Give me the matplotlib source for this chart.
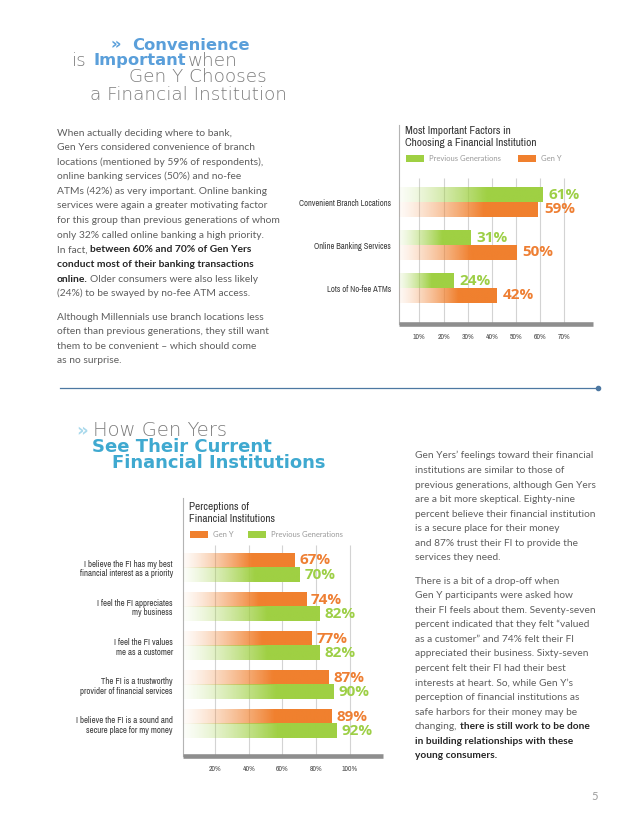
import matplotlib
matplotlib.use('Agg')
import matplotlib.pyplot as plt
import numpy as np
from matplotlib import font_manager, transforms, colors as mcolors
from matplotlib.font_manager import FontProperties
from matplotlib.lines import Line2D
from matplotlib.patches import Rectangle

# ---------------- data ----------------
factor_categories = ['Convenient Branch Locations', 'Online Banking Services', 'Lots of No-fee ATMs']
factor_previous = [61, 31, 24]
factor_geny = [59, 50, 42]
factor_ticks = [10, 20, 30, 40, 50, 60, 70]
factor_ticklabels = ['10%', '20%', '30%', '40%', '50%', '60%', '70%']

perception_categories = [
    'I believe the FI has my best\nfinancial interest as a priority',
    'I feel the FI appreciates\nmy business',
    'I feel the FI values\nme as a customer',
    'The FI is a trustworthy\nprovider of financial services',
    'I believe the FI is a sound and\nsecure place for my money',
]
perception_geny = [67, 74, 77, 87, 89]
perception_previous = [70, 82, 82, 90, 92]
perception_ticks = [20, 40, 60, 80, 100]
perception_ticklabels = ['20%', '40%', '60%', '80%', '100%']

left_para1 = [
    [("When actually deciding where to bank,", False)],
    [("Gen Yers considered convenience of branch", False)],
    [("locations (mentioned by 59% of respondents),", False)],
    [("online banking services (50%) and no-fee", False)],
    [("ATMs (42%) as very important. Online banking", False)],
    [("services were again a greater motivating factor", False)],
    [("for this group than previous generations of whom", False)],
    [("only 32% called online banking a high priority.", False)],
    [("In fact, ", False), ("between 60% and 70% of Gen Yers", True)],
    [("conduct most of their banking transactions", True)],
    [("online. ", True), ("Older consumers were also less likely", False)],
    [("(24%) to be swayed by no-fee ATM access.", False)],
]
left_para2 = [
    [("Although Millennials use branch locations less", False)],
    [("often than previous generations, they still want", False)],
    [("them to be convenient \u2013 which should come", False)],
    [("as no surprise.", False)],
]
right_para1 = [
    [("Gen Yers\u2019 feelings toward their financial", False)],
    [("institutions are similar to those of", False)],
    [("previous generations, although Gen Yers", False)],
    [("are a bit more skeptical. Eighty-nine", False)],
    [("percent believe their financial institution", False)],
    [("is a secure place for their money", False)],
    [("and 87% trust their FI to provide the", False)],
    [("services they need.", False)],
]
right_para2 = [
    [("There is a bit of a drop-off when", False)],
    [("Gen Y participants were asked how", False)],
    [("their FI feels about them. Seventy-seven", False)],
    [("percent indicated that they felt \u201cvalued", False)],
    [("as a customer\u201d and 74% felt their FI", False)],
    [("appreciated their business. Sixty-seven", False)],
    [("percent felt their FI had their best", False)],
    [("interests at heart. So, while Gen Y\u2019s", False)],
    [("perception of financial institutions as", False)],
    [("safe harbors for their money may be", False)],
    [("changing, ", False), ("there is still work to be done", True)],
    [("in building relationships with these", True)],
    [("young consumers.", True)],
]

# ---------------- setup ----------------
W, H = 638, 826
fig = plt.figure(figsize=(W / 100, H / 100), dpi=100)
fig.patch.set_facecolor('white')
renderer = fig.canvas.get_renderer()

ttf = font_manager.fontManager.ttflist
names = {f.name for f in ttf}


def pick(*cands):
    for n in cands:
        if n in names:
            return n
    return 'DejaVu Sans'


def find_condensed():
    cands = []
    for f in ttf:
        w = f.weight if isinstance(f.weight, int) else 400
        if f.style != 'normal' or not (350 <= w <= 450):
            continue
        score = None
        if 'Narrow' in f.name:
            score = 0
        elif 'Condensed' in f.name or f.stretch in ('condensed', 'semi-condensed'):
            score = 1 if 'Roboto' in f.name or 'Open' in f.name else 2
        if score is not None:
            cands.append((score, f.fname))
    if cands:
        cands.sort()
        return FontProperties(fname=cands[0][1])
    return FontProperties(family=pick('Roboto', 'Liberation Sans'))


COND = find_condensed()
SANS = pick('Lato', 'Open Sans', 'Roboto')
NUMF = pick('Open Sans', 'Lato')
WIDE = 'DejaVu Sans'

ORANGE = '#f0802e'
GREEN = '#9fd043'
ORANGE_T = '#ee7f33'
GREEN_T = '#9dcf46'
BLUE1 = '#5a9fda'
BLUE2 = '#3fa9d0'
GRAYH = '#7c7c7c'
BODY_C = '#5e5e5e'
BOLD_C = '#262626'


def fxy(x, y):
    return (x / W, 1 - y / H)


def measure(s, size, **kw):
    t = fig.text(0, 0, s, fontsize=size, **kw)
    w = t.get_window_extent(renderer=renderer).width
    t.remove()
    return w


def fit(s, target_w, max_size=None, **kw):
    size = 10 * target_w / measure(s, 10, **kw)
    if max_size is not None:
        size = min(size, max_size)
    return size


def put(x, y, s, **kw):
    return fig.text(*fxy(x, y), s, **kw)


def right_edge(t):
    return t.get_window_extent(renderer=renderer).x1


def rich(x, y, segs, size, family):
    cx = x
    for s, b in segs:
        kw = dict(family=family, weight='bold' if b else 'normal')
        put(cx, y, s.strip(), fontsize=size, color=BOLD_C if b else BODY_C,
            va='baseline', ha='left', **kw)
        cx += measure(s + '|', size, **kw) - measure('|', size, **kw)


# ---------------- headlines ----------------
LIGHT = dict(family=WIDE, weight='light', color=GRAYH, va='baseline')
gray1 = fit('a Financial Institution', 228, max_size=13.2, family=WIDE, weight='light')
blue1 = fit('Convenience', 145, max_size=11.8, family=WIDE, weight='bold')
put(110, 49, '\u00bb', color=BLUE1, fontsize=blue1, family=WIDE, weight='bold', va='baseline')
put(132, 50.5, 'Convenience', color=BLUE1, fontsize=blue1, family=WIDE, weight='bold', va='baseline')
put(72, 65.5, 'is', fontsize=gray1, **LIGHT)
t_imp = put(93, 65.5, 'Important', color=BLUE1, fontsize=blue1, family=WIDE, weight='bold', va='baseline')
put(right_edge(t_imp) + 2, 65.5, 'when', fontsize=gray1, **LIGHT)
put(129, 82.5, 'Gen Y Chooses', fontsize=gray1, **LIGHT)
put(90, 99.5, 'a Financial Institution', fontsize=gray1, **LIGHT)

gray2 = fit('How Gen Yers', 160, max_size=14.0, family=WIDE, weight='light')
blue2 = fit('See Their Current', 197, max_size=13.0, family=WIDE, weight='bold')
put(76, 436, '\u00bb', color='#a9d9ec', fontsize=blue2, family=WIDE, weight='bold', va='baseline')
put(93, 436.5, 'How Gen Yers', fontsize=gray2, **LIGHT)
put(92, 452, 'See Their Current', color=BLUE2, fontsize=blue2, family=WIDE, weight='bold', va='baseline')
put(112, 468, 'Financial Institutions', color=BLUE2, fontsize=blue2, family=WIDE, weight='bold', va='baseline')

# ---------------- body text ----------------
lsize = fit('for this group than previous generations of whom', 225, family=SANS)
for k, segs in enumerate(left_para1):
    rich(57, 132 + 14.6 * k + 3.5, segs, lsize, SANS)
for k, segs in enumerate(left_para2):
    rich(57, 316 + 14.6 * k + 3.5, segs, lsize, SANS)

rsize = fit('percent believe their financial institution', 181, family=SANS)
for k, segs in enumerate(right_para1):
    rich(415, 455 + 14.55 * k + 3.5, segs, rsize, SANS)
for k, segs in enumerate(right_para2):
    rich(415, 580 + 14.58 * k + 3.5, segs, rsize, SANS)

# divider
fig.add_artist(Line2D([60 / W, 598 / W], [fxy(0, 388)[1]] * 2, color='#4d78a2', lw=0.9))
fig.add_artist(Line2D([598 / W], [fxy(0, 388)[1]], marker='o', markersize=3, color='#4d78a2'))

# page number
put(595, 796, '5', color='#9a9a9a', fontsize=8, family=SANS, ha='center', va='center')


# ---------------- chart helpers ----------------
def px_axes(left, top, right, bottom):
    return fig.add_axes([left / W, 1 - bottom / H, (right - left) / W, (bottom - top) / H])


def grad_bar(ax, yc, h, v, color):
    rgb = mcolors.to_rgb(color)
    n = 256
    t = np.linspace(0, 1, n)
    a = 0.02 + 0.98 * np.clip(t / 0.62, 0, 1) ** 1.3
    img = np.zeros((1, n, 4))
    img[..., :3] = rgb
    img[0, :, 3] = a
    ax.imshow(img, extent=(0, v, yc + h / 2, yc - h / 2), aspect='auto',
              interpolation='bilinear', zorder=3)


def style_axes(ax):
    ax.set_facecolor('none')
    for s in ('top', 'right'):
        ax.spines[s].set_visible(False)
    ax.spines['left'].set_color('#b4b4b4')
    ax.spines['left'].set_linewidth(0.8)
    ax.spines['bottom'].set_color('#8e8e8e')
    ax.spines['bottom'].set_linewidth(3.3)
    ax.spines['bottom'].set_capstyle('butt')
    ax.tick_params(length=0)


cat_size1 = fit('Convenient Branch Locations', 92, max_size=8.0, fontproperties=COND)
cat_size2 = fit('financial interest as a priority', 94, max_size=8.0, fontproperties=COND)
tick_size = fit('70%', 12.7, max_size=7.0, fontproperties=COND)
value_size = fit('59%', 31, family=NUMF, weight='bold')
legend_size = fit('Previous Generations', 72, family=SANS)
title_size = fit('Choosing a Financial Institution', 132, max_size=8.5, fontproperties=COND)


def style_labels(labels, size, color):
    for lb in labels:
        lb.set_fontproperties(COND)
        lb.set_fontsize(size)
        lb.set_color(color)


# ---------------- chart 1 ----------------
ax1 = px_axes(399, 125, 593, 324)
y1 = np.arange(len(factor_categories))
bh1 = 0.326
off1 = transforms.offset_copy(ax1.transData, fig=fig, x=6, units='dots')
for i in y1:
    grad_bar(ax1, i - bh1 / 2, bh1, factor_previous[i], GREEN)
    grad_bar(ax1, i + bh1 / 2, bh1, factor_geny[i], ORANGE)
    ax1.text(factor_previous[i], i - bh1 / 2, f'{factor_previous[i]}%', transform=off1,
             va='center', ha='left', color=GREEN_T, fontsize=value_size, family=NUMF, weight='bold')
    ax1.text(factor_geny[i], i + bh1 / 2, f'{factor_geny[i]}%', transform=off1,
             va='center', ha='left', color=ORANGE_T, fontsize=value_size, family=NUMF, weight='bold')
ax1.vlines(factor_ticks, -0.57, 2.83, color='#d3d3d3', lw=0.8, zorder=1)
ax1.set_xlim(1.57, 81.8)
ax1.set_ylim(2.826, -1.802)
ax1.set_xticks(factor_ticks, factor_ticklabels)
ax1.set_yticks(y1, factor_categories)
style_labels(ax1.get_xticklabels(), tick_size, '#4a4a4a')
style_labels(ax1.get_yticklabels(), cat_size1, '#3a3a3a')
style_axes(ax1)
ax1.tick_params(axis='x', pad=7.5)
ax1.tick_params(axis='y', pad=5.8)

for txt, yy in (('Most Important Factors in', 134.5), ('Choosing a Financial Institution', 145.5)):
    put(405, yy, txt, fontproperties=COND, fontsize=title_size, color='#333333', va='baseline')
fig.add_artist(Rectangle(fxy(406, 161.5), 18 / W, 6.5 / H, transform=fig.transFigure, color=GREEN, lw=0))
put(429, 158.3, 'Previous Generations', fontsize=legend_size, family=SANS, color='#9a9a9a', va='center')
fig.add_artist(Rectangle(fxy(518, 161.5), 18 / W, 6.5 / H, transform=fig.transFigure, color=ORANGE, lw=0))
put(541, 158.3, 'Gen Y', fontsize=legend_size, family=SANS, color='#9a9a9a', va='center')

# ---------------- chart 2 ----------------
ax2 = px_axes(183, 498, 383, 756)
y2 = np.arange(len(perception_categories))
bh2 = 0.357
off2 = transforms.offset_copy(ax2.transData, fig=fig, x=5, units='dots')
for i in y2:
    grad_bar(ax2, i - bh2 / 2, bh2, perception_geny[i], ORANGE)
    grad_bar(ax2, i + bh2 / 2, bh2, perception_previous[i], GREEN)
    ax2.text(perception_geny[i], i - bh2 / 2, f'{perception_geny[i]}%', transform=off2,
             va='center', ha='left', color=ORANGE_T, fontsize=value_size, family=NUMF, weight='bold')
    ax2.text(perception_previous[i], i + bh2 / 2, f'{perception_previous[i]}%', transform=off2,
             va='center', ha='left', color=GREEN_T, fontsize=value_size, family=NUMF, weight='bold')
ax2.vlines(perception_ticks, -0.573, 4.81, color='#d3d3d3', lw=0.8, zorder=1)
ax2.set_xlim(1.04, 119.6)
ax2.set_ylim(4.803, -1.771)
ax2.set_xticks(perception_ticks, perception_ticklabels)
ax2.set_yticks(y2, perception_categories)
style_labels(ax2.get_xticklabels(), tick_size, '#4a4a4a')
style_labels(ax2.get_yticklabels(), cat_size2, '#3a3a3a')
for lb in ax2.get_yticklabels():
    lb.set_linespacing(1.1)
    lb.set_multialignment('right')
style_axes(ax2)
ax2.tick_params(axis='x', pad=7.5)
ax2.tick_params(axis='y', pad=7.2)

for txt, yy in (('Perceptions of', 510.5), ('Financial Institutions', 521.5)):
    put(189, yy, txt, fontproperties=COND, fontsize=title_size, color='#333333', va='baseline')
fig.add_artist(Rectangle(fxy(190, 537.5), 18 / W, 6.5 / H, transform=fig.transFigure, color=ORANGE, lw=0))
put(213, 534.3, 'Gen Y', fontsize=legend_size, family=SANS, color='#9a9a9a', va='center')
fig.add_artist(Rectangle(fxy(248, 537.5), 18 / W, 6.5 / H, transform=fig.transFigure, color=GREEN, lw=0))
put(271, 534.3, 'Previous Generations', fontsize=legend_size, family=SANS, color='#9a9a9a', va='center')

fig.savefig('out.png', dpi=100, facecolor='white')
